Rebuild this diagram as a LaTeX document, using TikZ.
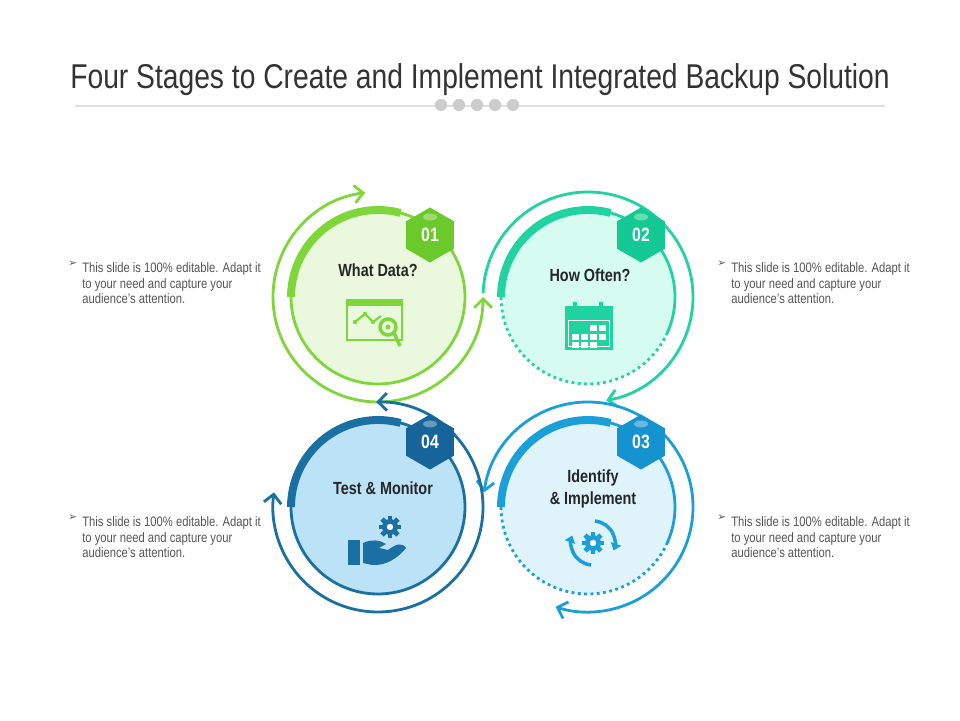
\documentclass[tikz,border=0pt]{standalone}
\usepackage{fontspec}
\setmainfont{Liberation Sans}
\newfontfamily\narrow[FakeStretch=0.82]{Liberation Sans}
\newfontfamily\sym{DejaVu Sans}
\usetikzlibrary{arrows.meta,shapes.geometric}
\definecolor{cgreen}{HTML}{7ED63A}
\definecolor{cgreenhex}{HTML}{6CC92C}
\definecolor{cgreenbg}{HTML}{EAF8DD}
\definecolor{cteal}{HTML}{22D3A2}
\definecolor{ctealhex}{HTML}{14C993}
\definecolor{ctealbg}{HTML}{D6FBF0}
\definecolor{cblue}{HTML}{1B9FD8}
\definecolor{cbluehex}{HTML}{1593CF}
\definecolor{cbluebg}{HTML}{DFF3FB}
\definecolor{cdark}{HTML}{1A6FA3}
\definecolor{cdarkhex}{HTML}{16649A}
\definecolor{cdarkbg}{HTML}{BCE2F8}
\definecolor{ctext}{HTML}{555555}
\tikzset{
  ring/.style={line width=1.6pt},
  rim/.style={line width=1.6pt},
  band/.style={line width=4.5pt},
  barbs/.style={{Straight Barb[length=5pt,width=10pt]}-{Straight Barb[length=5pt,width=10pt]}},
  barb/.style={-{Straight Barb[length=5pt,width=10pt]}},
  hexa/.style={regular polygon, regular polygon sides=6, shape border rotate=30,
    minimum size=1.1cm, inner sep=0pt, text=white, font=\narrow\bfseries\fontsize{11}{11}\selectfont},
  title/.style={font=\narrow\bfseries\fontsize{10}{12}\selectfont, align=center, text=black!85},
  note/.style={font=\narrow\fontsize{7.8}{9}\selectfont, text=ctext, align=left, anchor=north west, inner sep=0pt},
  dot/.style={circle, fill=black!20, inner sep=0pt, minimum size=7pt}
}
\newcommand{\gearicon}[4]{% x, y, r, colour
  \fill[#4] (#1,#2) circle (#3);
  \foreach \a in {0,45,...,315}
    \fill[#4, rotate around={\a:(#1,#2)}] (#1-2.4,#2+#3-1) rectangle (#1+2.4,#2+#3+3.2);
  \fill[white] (#1,#2) circle (#3*0.4);}
\begin{document}
\begin{tikzpicture}[x=0.02cm,y=0.02cm]
\useasboundingbox (0,0) rectangle (960,720);
% title
\node[font=\narrow\fontsize{19.6}{22}\selectfont, text=black!80] (ttl) at (480,640) {Four Stages to Create and Implement Integrated Backup Solution};
\draw[black!12, line width=0.6pt] (75,614) -- (885,614);
\foreach \i in {0,...,4}
  \node[dot] (d\i) at (441+18*\i,615) {};

% stage 1
\fill[cgreenbg] (378,423) circle (87);
\draw[rim, cgreen] (378,423) circle (87);
\draw[band, cgreen] (378,423) ++(180:87) arc[start angle=180, end angle=75, radius=87];
\draw[ring, cgreen, barbs] (378,423) ++(0:105) arc[start angle=0, end angle=-263, radius=105];
% stage 2
\fill[ctealbg] (588,423) circle (87);
\draw[rim, cteal] (588,423) ++(180:87) arc[start angle=180, end angle=-25, radius=87];
\draw[rim, cteal, dotted] (588,423) ++(180:87) arc[start angle=180, end angle=335, radius=87];
\draw[band, cteal] (588,423) ++(180:87) arc[start angle=180, end angle=75, radius=87];
\draw[ring, cteal, barb] (588,423) ++(178:105) arc[start angle=178, end angle=-80, radius=105];
% stage 3
\fill[cbluebg] (588,213) circle (87);
\draw[rim, cblue] (588,213) ++(180:87) arc[start angle=180, end angle=-25, radius=87];
\draw[rim, cblue, dotted] (588,213) ++(180:87) arc[start angle=180, end angle=335, radius=87];
\draw[band, cblue] (588,213) ++(180:87) arc[start angle=180, end angle=75, radius=87];
\draw[ring, cblue, barbs] (588,213) ++(172:105) arc[start angle=172, end angle=-108, radius=105];
% stage 4
\fill[cdarkbg] (378,213) circle (87);
\draw[rim, cdark] (378,213) circle (87);
\draw[band, cdark] (378,213) ++(180:87) arc[start angle=180, end angle=75, radius=87];
\draw[ring, cdark, barbs] (378,213) ++(91:105) arc[start angle=91, end angle=-188, radius=105];

% badges
\node[hexa, fill=cgreenhex] (h1) at (430,485) {01};
\node[hexa, fill=ctealhex] (h2) at (641,485) {02};
\node[hexa, fill=cbluehex] (h3) at (641,278) {03};
\node[hexa, fill=cdarkhex] (h4) at (430,278) {04};
\foreach \x/\y in {430/503, 641/503, 641/296, 430/296}
  \fill[white, opacity=0.35] (\x,\y) ellipse (7 and 3.5);

% labels
\node[title] (t1) at (378,450) {What Data?};
\node[title] (t2) at (590,445) {How Often?};
\node[title] (t3) at (593,231) {Identify\\\& Implement};
\node[title] (t4) at (383,232) {Test \& Monitor};

% icon 1
\draw[cgreen, line width=1pt] (347,380) rectangle (402,420);
\fill[cgreen] (347,414) rectangle (402,421);
\draw[cgreen, line width=1.2pt] (355,398) -- (365,406) -- (373,398) -- (381,404);
\foreach \x/\y in {355/398, 365/406, 373/398}
  \fill[cgreen] (\x,\y) circle (2.2);
\draw[cgreen, line width=2pt] (388,393) circle (8) (394,387) -- (400,374);
\fill[cgreen] (388,393) circle (2.5);
% icon 2
\fill[cteal] (565,370) rectangle (613,414);
\fill[white] (568,373) rectangle (610,400);
\fill[cteal] (569,374) rectangle (609,399);
\foreach \x/\y in {593/392, 602/392, 575/383, 584/383, 593/383, 602/383, 575/375, 584/375, 593/375}
  \fill[white] (\x-3.5,\y-3) rectangle (\x+3.5,\y+3);
\draw[cteal, line width=2pt] (575,410) -- (575,418) (601,410) -- (601,418);
% icon 3
\gearicon{593}{177}{8}{cblue}
\draw[cblue, line width=2pt, -{Triangle[length=4pt,width=6pt]}] (593,177) ++(85:22) arc[start angle=85, end angle=-20, radius=22];
\draw[cblue, line width=2pt, -{Triangle[length=4pt,width=6pt]}] (593,177) ++(265:22) arc[start angle=265, end angle=160, radius=22];
% icon 4
\gearicon{390}{193}{8}{cdark}
\fill[cdark] (348,155) rectangle (360,180);
\fill[cdark] (363,177) .. controls (372,181) and (380,180) .. (386,176) -- (379,172) -- (388,170)
  .. controls (396,176) and (402,178) .. (406,172) .. controls (398,162) and (386,154) .. (372,155) -- (363,157) -- cycle;

% notes
\foreach \x/\y [count=\k] in {68/458, 717/458, 68/204, 717/204} {
  \node[anchor=north west, inner sep=0pt, font=\sym\fontsize{6}{9}\selectfont, text=ctext] (b\k) at (\x,\y+1) {➢};
  \node[note] (n\k) at (\x+14,\y) {This slide is 100\% editable. Adapt it\\to your need and capture your\\audience’s attention.};
}
\end{tikzpicture}
\end{document}
